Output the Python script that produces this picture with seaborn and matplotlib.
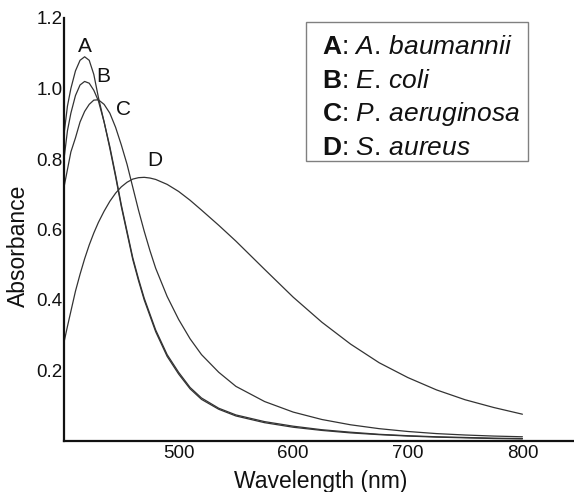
import matplotlib
matplotlib.use("Agg")
import matplotlib.pyplot as plt
from matplotlib.patches import Rectangle
import pandas as pd
import seaborn as sns

# Wavelength grid (nm) and absorbance
wavelength = [400, 403, 406, 410, 414, 418, 422, 426, 430, 435, 440, 445, 450,
              455, 460, 465, 470, 475, 480, 490, 500, 510, 520, 535, 550, 575,
              600, 625, 650, 675, 700, 725, 750, 775, 800]

abs_a = [0.87, 0.95, 1.00, 1.05, 1.08, 1.09, 1.08, 1.04, 0.975, 0.905, 0.83,
         0.75, 0.665, 0.59, 0.515, 0.455, 0.40, 0.355, 0.31, 0.24, 0.19, 0.148,
         0.118, 0.09, 0.071, 0.052, 0.039, 0.03, 0.023, 0.018, 0.014, 0.011,
         0.009, 0.007, 0.006]
abs_b = [0.80, 0.88, 0.93, 0.98, 1.01, 1.02, 1.015, 0.995, 0.965, 0.905, 0.835,
         0.755, 0.67, 0.595, 0.52, 0.46, 0.405, 0.36, 0.315, 0.245, 0.195,
         0.152, 0.122, 0.093, 0.074, 0.055, 0.042, 0.032, 0.025, 0.019, 0.015,
         0.012, 0.01, 0.008, 0.007]
abs_c = [0.72, 0.77, 0.82, 0.86, 0.905, 0.935, 0.955, 0.967, 0.968, 0.955,
         0.93, 0.89, 0.84, 0.785, 0.72, 0.655, 0.595, 0.54, 0.49, 0.41, 0.345,
         0.29, 0.245, 0.195, 0.155, 0.112, 0.082, 0.061, 0.046, 0.035, 0.027,
         0.021, 0.017, 0.014, 0.012]
abs_d = [0.28, 0.325, 0.368, 0.425, 0.473, 0.517, 0.556, 0.59, 0.62, 0.652,
         0.68, 0.703, 0.721, 0.734, 0.743, 0.747, 0.748, 0.746, 0.742, 0.728,
         0.708, 0.683, 0.655, 0.612, 0.567, 0.487, 0.408, 0.337, 0.275, 0.222,
         0.18, 0.145, 0.117, 0.095, 0.076]

samples = ["A", "B", "C", "D"]
species = ["A. baumannii", "E. coli", "P. aeruginosa", "S. aureus"]
label_pos = [(418, 1.118), (434, 1.035), (452, 0.94), (479, 0.797)]

df = pd.concat([
    pd.DataFrame({"wavelength": wavelength, "absorbance": vals, "sample": s})
    for s, vals in zip(samples, [abs_a, abs_b, abs_c, abs_d])
])

sns.set_theme(style="white")
plt.rcParams["font.family"] = ["Liberation Sans", "DejaVu Sans"]
plt.rcParams["mathtext.fontset"] = "custom"
plt.rcParams["mathtext.rm"] = "Liberation Sans"
plt.rcParams["mathtext.it"] = "Liberation Sans:italic"
plt.rcParams["mathtext.bf"] = "Liberation Sans:bold"

W, H = 574, 492
fig = plt.figure(figsize=(W / 100, H / 100), dpi=100)
ax = fig.add_axes([64 / W, 51 / H, 1 - 64 / W, 423 / H])

sns.lineplot(data=df, x="wavelength", y="absorbance", hue="sample",
             palette=["#333333"] * 4, linewidth=0.9, legend=False, ax=ax)

for s, (lx, ly) in zip(samples, label_pos):
    ax.text(lx, ly, s, fontsize=15, ha="center", va="center", color="#111111")

ax.set_xlim(400, 845)
ax.set_ylim(0, 1.2)
ax.set_xticks([500, 600, 700, 800])
ax.set_yticks([0.2, 0.4, 0.6, 0.8, 1.0, 1.2])
ax.set_yticklabels(["0.2", "0.4", "0.6", "0.8", "1.0", "1.2"])
ax.tick_params(axis="both", length=0, labelsize=13.5, colors="#111111")
ax.tick_params(axis="y", pad=1)
ax.tick_params(axis="x", pad=3)
ax.set_xlabel("Wavelength (nm)", fontsize=16.5, color="#111111")
ax.set_ylabel("Absorbance", fontsize=16.5, color="#111111")
ax.xaxis.set_label_coords(0.504, -0.068)
ax.yaxis.set_label_coords(-0.066, 0.461)

sns.despine(ax=ax)
for side in ["left", "bottom"]:
    ax.spines[side].set_color("#111111")
    ax.spines[side].set_linewidth(1.6)

# key box in the upper right
fig.patches.append(Rectangle((306 / W, 1 - 161 / H), 221.7 / W, 139.3 / H,
                             transform=fig.transFigure, facecolor="white",
                             edgecolor="#808080", linewidth=1.0))
for i, (s, sp) in enumerate(zip(samples, species)):
    genus, name = sp.split(" ")
    txt = r"$\mathbf{%s}$: $\mathit{%s\,%s}$" % (s, genus, name)
    fig.text(321.7 / W, 1 - (54 + 33.7 * i) / H, txt, fontsize=19,
             ha="left", va="baseline", color="#111111")

fig.savefig("out.png", dpi=100)
